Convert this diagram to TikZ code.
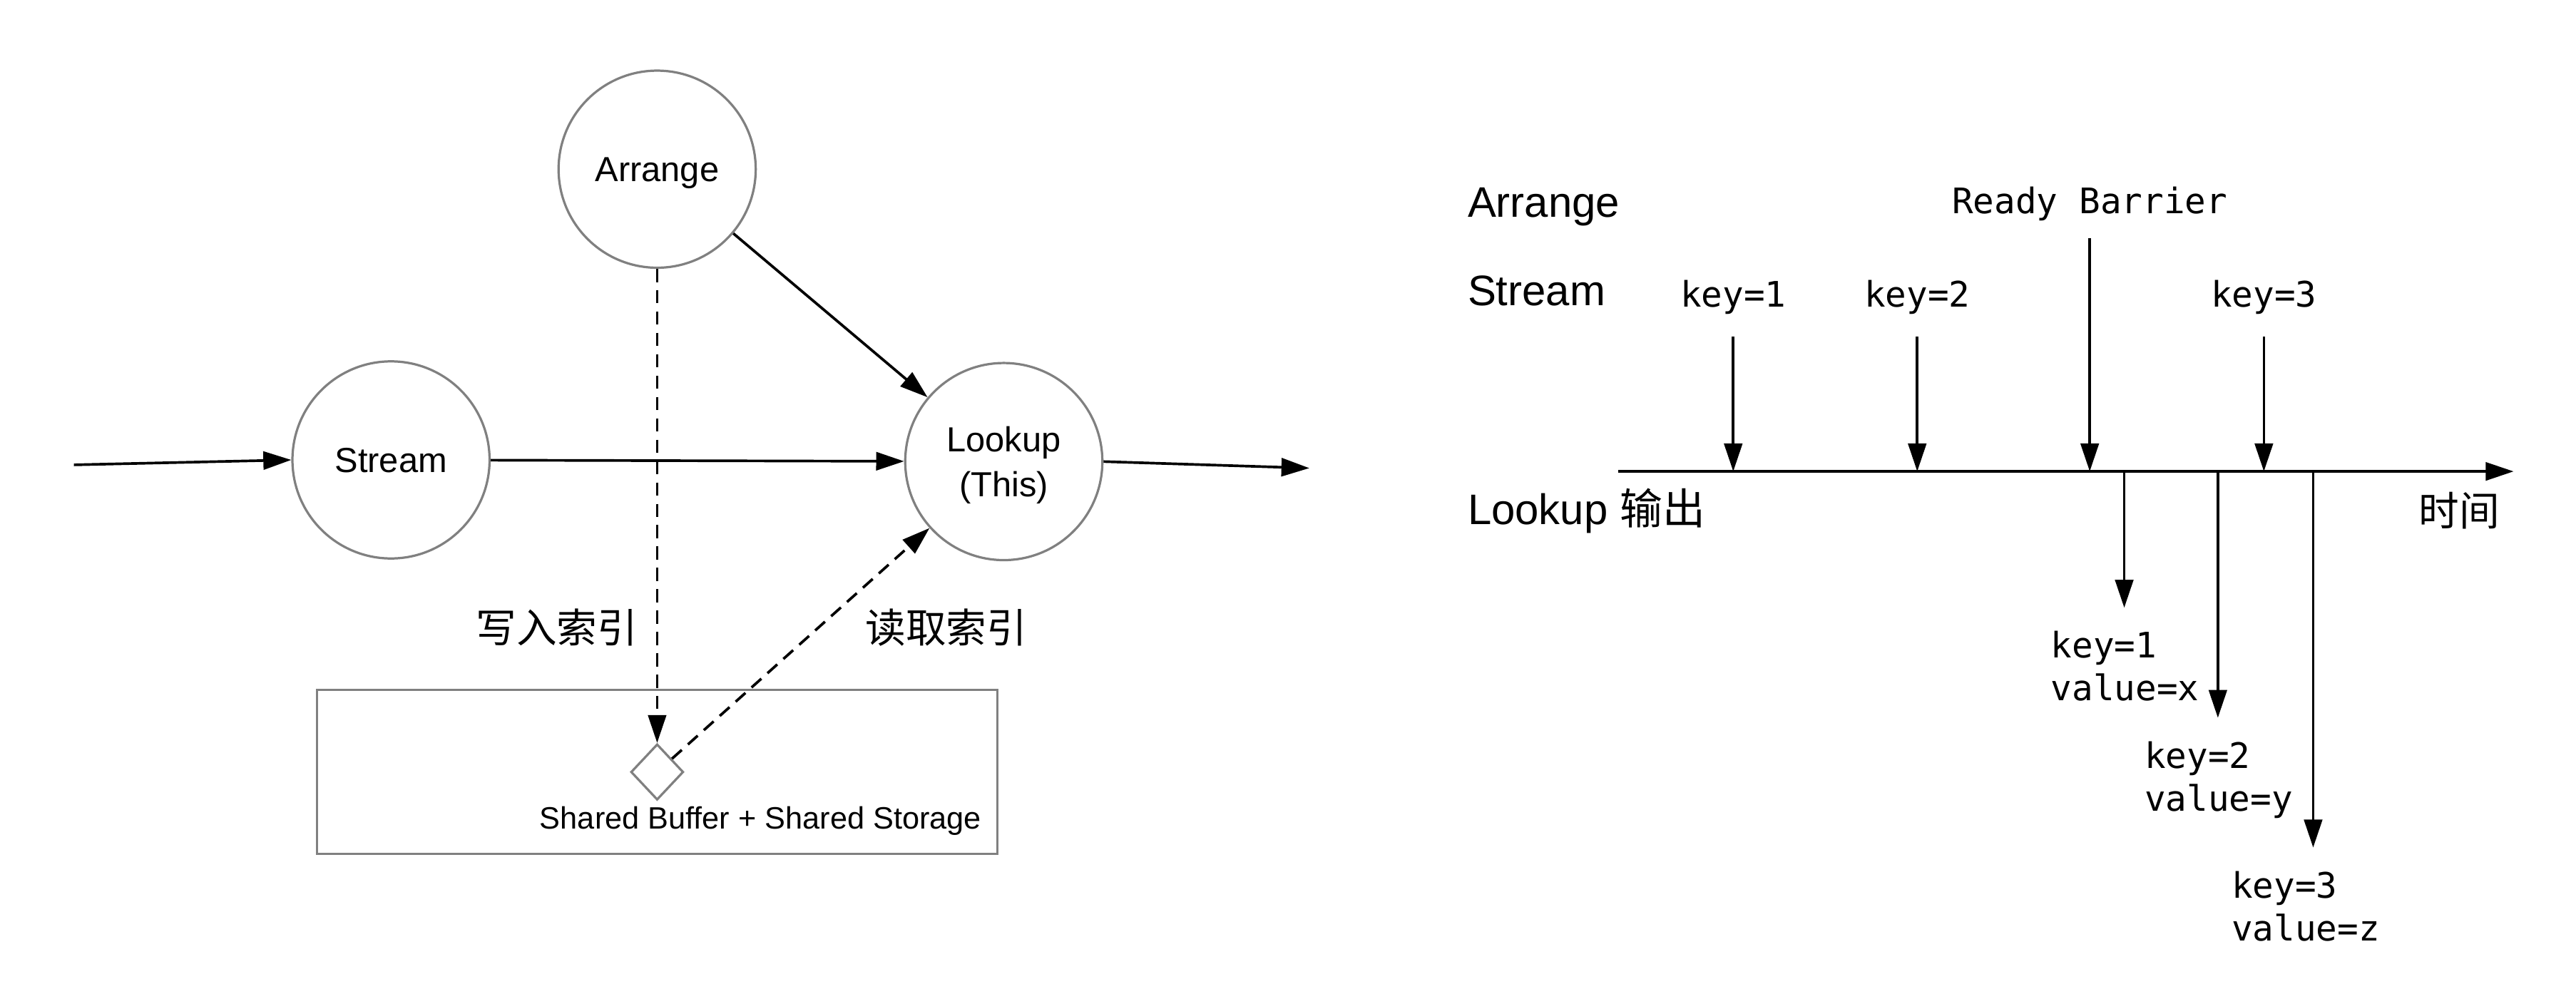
\documentclass[tikz,border=0pt]{standalone}
\usepackage{fontspec}
\setmainfont{Liberation Sans}
\setmonofont{DejaVu Sans Mono}
\newfontfamily\cjk{Noto Sans CJK SC}
\usetikzlibrary{arrows.meta,
                positioning,
                shapes.geometric
                }
\definecolor{rim}{HTML}{808080}

\begin{document}
\begin{tikzpicture}[x=0.5pt, y=-0.5pt,
        >={Triangle[length=8.5pt,width=5.5pt]},
     circ/.style = {shape=circle, draw=rim, line width=0.7pt,
                    minimum size=60pt, inner sep=0pt, text depth=0pt,
                    align=center, font=\fontsize{10.6}{13.5}\selectfont},
      dia/.style = {shape=diamond, draw=rim, line width=0.7pt,
                    minimum width=16pt, minimum height=17pt, inner sep=0pt},
     flow/.style = {->, line width=0.8pt},
     idx/.style  = {->, line width=0.8pt, dash pattern=on 4pt off 2.5pt},
      cjk/.style = {font=\cjk\fontsize{12.3}{14}\selectfont},
      lbl/.style = {anchor=west, inner sep=0pt, font=\fontsize{13}{15}\selectfont},
     mono/.style = {inner sep=0pt, align=left,
                    font=\ttfamily\fontsize{10.7}{13}\selectfont}
      ]
    \useasboundingbox (0,0) rectangle (1568,599);
    % left: operators
    \node (arr) [circ] at (400,103) {Arrange};
    \node (str) [circ] at (238,280) {Stream};
    \node (look) [circ] at (611,281) {Lookup\\(This)};
    \coordinate (src) at (45,283);
    \coordinate (dst) at (797,285);
    \draw[flow] (src) -- (str.west);
    \draw[flow] (str) -- (look);
    \draw[flow] (arr) -- (look);
    \draw[flow] (look.east) -- (dst);

    \node (buf) [draw=rim, line width=0.7pt, minimum width=207pt, minimum height=50pt,
                 inner sep=0pt] at (400,470) {};
    \node (mem) [dia] at (400,470) {};
    \node (shared) [font=\fontsize{9.4}{11}\selectfont, inner sep=0pt] at (463,500)
          {Shared Buffer + Shared Storage};
    \draw[idx] (arr) -- (mem);
    \draw[idx] (mem) -- (look);
    \node (wr) [cjk] at (339,382) {写入索引};
    \node (rd) [cjk] at (576,382) {读取索引};

    % right: timeline
    \node (larr) [lbl] at (893,126) {Arrange};
    \node (lstr) [lbl] at (893,177) {Stream};
    \node (lout) [lbl] at (893,311) {Lookup {\cjk 输出}};
    \node (tm) [cjk] at (1497,311) {时间};
    \coordinate (t0) at (985,287);
    \coordinate (t1) at (1530,287);
    \draw[flow] (t0) -- (t1);

    \node (rb) [mono] at (1272,124) {Ready Barrier};
    \coordinate (rbtop) at (1272,145);
    \draw[flow] (rbtop) -- (rbtop |- t0);

    \foreach \k/\x in {1/1055, 2/1167, 3/1378}{
        \node (k\k) [mono] at (\x,181) {key=\k};
        \coordinate (kt\k) at (\x,205);
        \draw[flow] (kt\k) -- (kt\k |- t0);
    }

    \foreach \k/\x/\y/\lx/\v in {1/1293/370/1248/x, 2/1350/437/1305/y, 3/1408/516/1358/z}{
        \coordinate (o\k) at (\x,287);
        \coordinate (oe\k) at (\x,\y);
        \draw[flow] (o\k) -- (oe\k);
        \node (v\k) [mono, anchor=north west] at (\lx,\y+14) {key=\k\\value=\v};
    }
\end{tikzpicture}
\end{document}
